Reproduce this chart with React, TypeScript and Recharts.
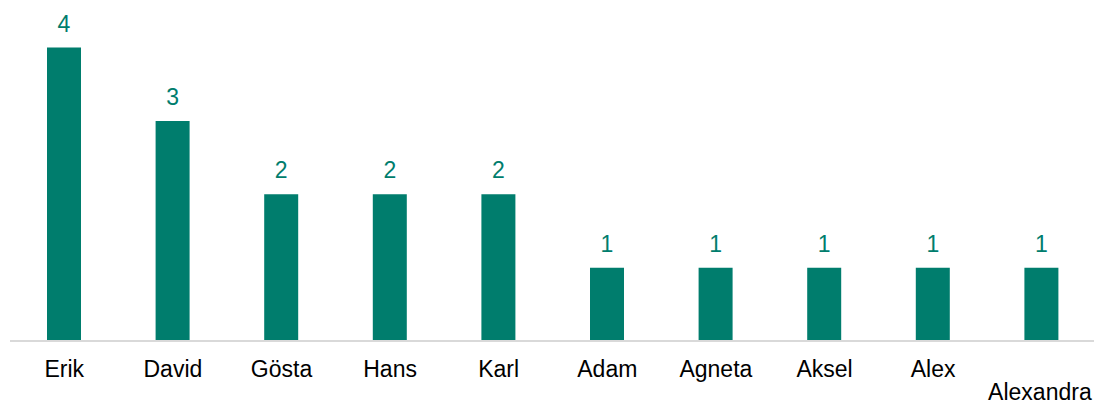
import { BarChart, Bar, XAxis, YAxis, LabelList } from 'recharts';

const names = ['Erik', 'David', 'Gösta', 'Hans', 'Karl', 'Adam', 'Agneta', 'Aksel', 'Alex', 'Alexandra'];
const counts = [4, 3, 2, 2, 2, 1, 1, 1, 1, 1];

const data = names.map((name, i) => ({ name, count: counts[i] }));

const FONT = '"Liberation Sans", Arial, sans-serif';
const TEAL = '#007d6d';

function NameTick(props: any) {
  const { x, y, payload, index } = props;
  const last = index === names.length - 1;
  // Excel pushes the overflowing last label down and right-aligns it
  return (
    <text
      x={last ? x + 50 : x}
      y={y + (last ? 51 : 28)}
      textAnchor={last ? 'end' : 'middle'}
      fontFamily={FONT}
      fontSize={23}
      fill="#000"
    >
      {payload.value}
    </text>
  );
}

export default function App() {
  return (
    <div style={{ width: 1094, height: 405 }}>
      <style>{'html,body{margin:0;padding:0;overflow:hidden}'}</style>
      <BarChart
        width={1094}
        height={405}
        data={data}
        margin={{ top: 47.5, right: -2, bottom: 0, left: 10 }}
        style={{ overflow: 'visible' }}
      >
        <XAxis
          dataKey="name"
          height={64}
          tickLine={false}
          axisLine={{ stroke: '#d9d9d9', strokeWidth: 2 }}
          interval={0}
          tick={<NameTick />}
        />
        <YAxis hide domain={[0, 4]} />
        <Bar dataKey="count" fill={TEAL} barSize={34} isAnimationActive={false}>
          <LabelList
            dataKey="count"
            position="top"
            offset={16}
            fill={TEAL}
            fontFamily={FONT}
            fontSize={23}
          />
        </Bar>
      </BarChart>
    </div>
  );
}
